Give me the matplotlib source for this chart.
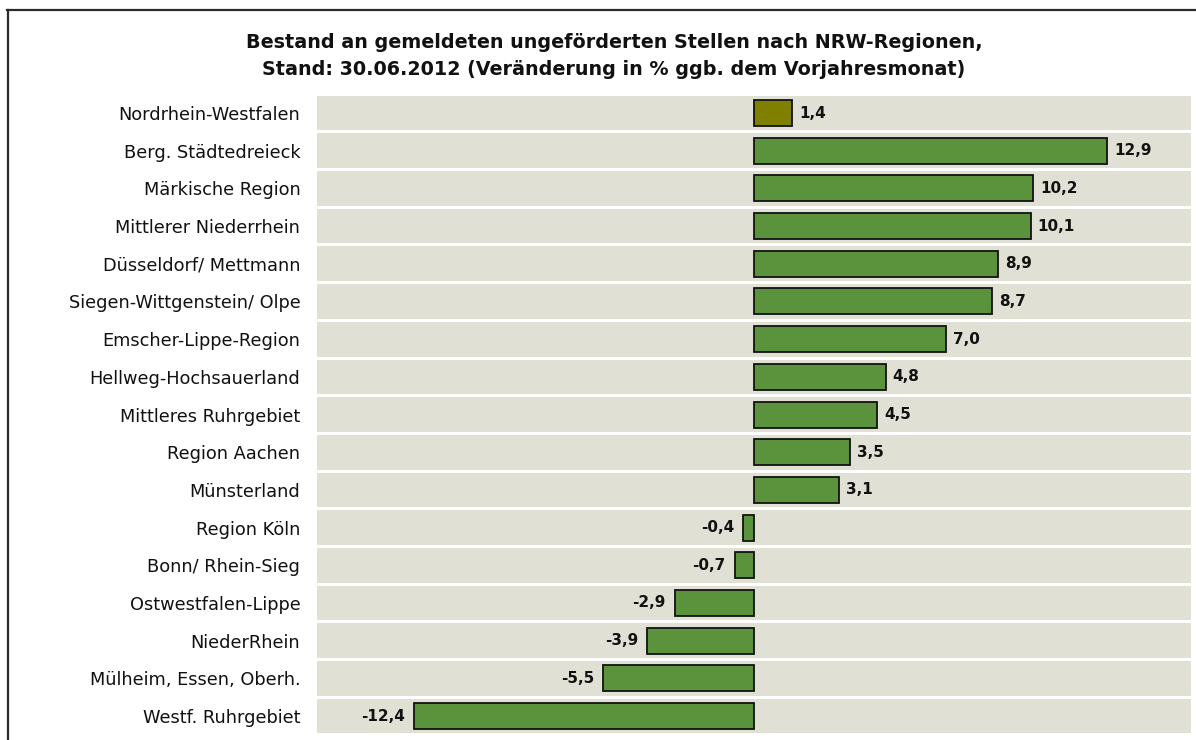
import matplotlib.pyplot as plt
from matplotlib.lines import Line2D

plt.rcParams['font.family'] = ['DejaVu Sans']

regions = ['Nordrhein-Westfalen', 'Berg. Städtedreieck', 'Märkische Region',
           'Mittlerer Niederrhein', 'Düsseldorf/ Mettmann', 'Siegen-Wittgenstein/ Olpe',
           'Emscher-Lippe-Region', 'Hellweg-Hochsauerland', 'Mittleres Ruhrgebiet',
           'Region Aachen', 'Münsterland', 'Region Köln', 'Bonn/ Rhein-Sieg',
           'Ostwestfalen-Lippe', 'NiederRhein', 'Mülheim, Essen, Oberh.',
           'Westf. Ruhrgebiet']
changes = [1.4, 12.9, 10.2, 10.1, 8.9, 8.7, 7.0, 4.8, 4.5, 3.5, 3.1,
           -0.4, -0.7, -2.9, -3.9, -5.5, -12.4]

title = ('Bestand an gemeldeten ungeförderten Stellen nach NRW-Regionen,\n'
         'Stand: 30.06.2012 (Veränderung in % ggb. dem Vorjahresmonat)')

W, H = 1196, 740
fig = plt.figure(figsize=(W / 100, H / 100), dpi=100)
fig.patch.set_facecolor('white')

# frame cut off on right and bottom
fig.add_artist(Line2D([7 / W, 1], [1 - 9.5 / H] * 2, color='#2b2b2b', lw=1.6))
fig.add_artist(Line2D([7.5 / W] * 2, [0, 1 - 9.5 / H], color='#2b2b2b', lw=1.6))
# remnant of heading above the frame
fig.text(128 / W, 1 + 3.5 / H, 'g', color='#6b7b6b', fontsize=16, fontweight='bold',
         ha='center', va='baseline')

x0, x1 = 317, 1191
top, bottom = 94.2, 734.9
ax = fig.add_axes([x0 / W, 1 - bottom / H, (x1 - x0) / W, (bottom - top) / H])
xmin, xmax = -15.95, 15.95
ax.set_xlim(xmin, xmax)
ax.set_ylim(len(regions) - 0.5, -0.5)

ypos = list(range(len(regions)))
ax.barh(ypos, [xmax - xmin] * len(regions), left=xmin, height=0.92,
        color='#e0e0d4', zorder=0)
colors = ['#7f7f00'] + ['#5b923c'] * (len(regions) - 1)
ax.barh(ypos, changes, height=0.69, color=colors, edgecolor='#111111',
        linewidth=1.3, zorder=2)

for y, v in zip(ypos, changes):
    txt = f'{v:.1f}'.replace('.', ',')
    if v >= 0:
        ax.text(v + 0.25, y, txt, ha='left', va='center', fontsize=11,
                fontweight='bold', color='#111111')
    else:
        ax.text(v - 0.33, y, txt, ha='right', va='center', fontsize=11,
                fontweight='bold', color='#111111')

ax.set_yticks(ypos)
ax.set_yticklabels(regions, fontsize=12.8, color='#111111')
ax.tick_params(axis='y', length=0, pad=12)
ax.set_xticks([])
for s in ax.spines.values():
    s.set_visible(False)

fig.text(614 / W, 1 - 56 / H, title, ha='center', va='center', fontsize=13.8,
         fontweight='bold', color='#111111', linespacing=1.58)

fig.savefig('out.png', dpi=100)
